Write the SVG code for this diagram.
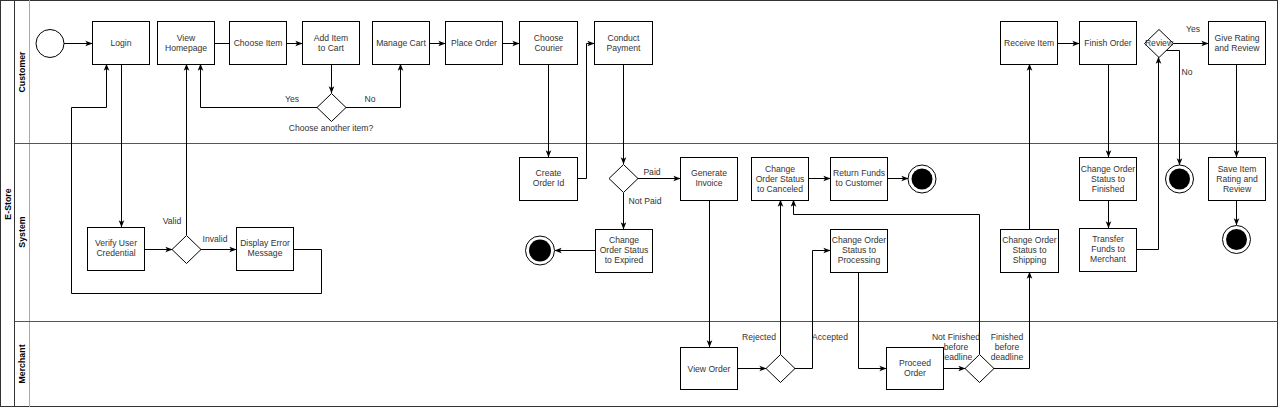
<svg xmlns="http://www.w3.org/2000/svg" width="1280" height="408" viewBox="0 0 1280 408">
<style>
.n{fill:#fff;stroke:#000;stroke-width:1}
.t{font-family:"Liberation Sans",Arial,sans-serif;font-size:8.6px;fill:#333;text-anchor:middle}
.lb{font-family:"Liberation Sans",Arial,sans-serif;font-size:8.8px;font-weight:bold;fill:#000;text-anchor:middle}
.e{fill:none;stroke:#000;stroke-width:1}
.a{marker-end:url(#arr)}
.frame{fill:none;stroke:#333;stroke-width:1}
</style>
<defs>
<marker id="arr" viewBox="0 0 10 10" refX="9.5" refY="5" markerWidth="7" markerHeight="7" markerUnits="userSpaceOnUse" orient="auto">
<path d="M0,1 L10,5 L0,9 L2.5,5 z" fill="#000"/>
</marker>
</defs>
<rect width="1280" height="408" fill="#fff"/>
<g id="pool">
<rect class="frame" x="0.5" y="0.5" width="1277" height="406"/>
<line x1="14.5" y1="0" x2="14.5" y2="407" stroke="#333"/>
<line x1="29.5" y1="0" x2="29.5" y2="407" stroke="#aaa"/>
<line x1="14.5" y1="143.5" x2="1277.5" y2="143.5" stroke="#555"/>
<line x1="14.5" y1="321.5" x2="1277.5" y2="321.5" stroke="#555"/>
<text class="lb" transform="translate(10.5,204) rotate(-90)">E-Store</text>
<text class="lb" transform="translate(25,72) rotate(-90)">Customer</text>
<text class="lb" transform="translate(25,232) rotate(-90)">System</text>
<text class="lb" transform="translate(25,364) rotate(-90)">Merchant</text>
</g>
<g id="connectors">
<path class="e a" d="M64,43.5 H92"/>
<path class="e" d="M214,43.5 H229"/>
<path class="e a" d="M286,43.5 H302"/>
<path class="e a" d="M331.5,64 V93"/>
<path class="e a" d="M317,107.5 H200.5 V64"/>
<path class="e a" d="M346,107.5 H400.5 V64"/>
<path class="e a" d="M429,43.5 H445"/>
<path class="e a" d="M502,43.5 H519"/>
<path class="e a" d="M548.5,64 V157"/>
<path class="e a" d="M577,178.5 H586.5 V43.5 H594"/>
<path class="e a" d="M623.5,64 V164"/>
<path class="e a" d="M637,178.5 H680"/>
<path class="e a" d="M623.5,193 V229"/>
<path class="e a" d="M595,250.5 H555"/>
<path class="e a" d="M709.5,200 V347"/>
<path class="e a" d="M737,368.5 H766"/>
<path class="e a" d="M780.5,354 V200"/>
<path class="e a" d="M794,368.5 H812.5 V250.5 H830"/>
<path class="e a" d="M858.5,272 V368.5 H886"/>
<path class="e a" d="M943,368.5 H965"/>
<path class="e a" d="M979.5,354 V214.5 H793.5 V200"/>
<path class="e a" d="M993,368.5 H1029.5 V272"/>
<path class="e a" d="M1029.5,229 V64"/>
<path class="e a" d="M1057,43.5 H1079"/>
<path class="e a" d="M1108.5,64 V157"/>
<path class="e a" d="M1108.5,200 V228"/>
<path class="e a" d="M1136,249.5 H1158.5 V57"/>
<path class="e a" d="M1173,43.5 H1208"/>
<path class="e a" d="M1166,50.5 H1179.5 V165"/>
<path class="e a" d="M1236.5,64 V157"/>
<path class="e a" d="M1236.5,200 V225"/>
<path class="e a" d="M809,178.5 H830"/>
<path class="e a" d="M887,178.5 H908"/>
<path class="e a" d="M121.5,64 V227"/>
<path class="e a" d="M144,249.5 H172"/>
<path class="e a" d="M186.5,235 V64"/>
<path class="e a" d="M200,249.5 H236"/>
<path class="e a" d="M293,249.5 H321.5 V293.5 H71.5 V107.5 H106.5 V64"/>
<text class="t" x="292" y="102">Yes</text>
<text class="t" x="370" y="102">No</text>
<text class="t" x="331" y="131">Choose another item?</text>
<text class="t" x="172" y="224">Valid</text>
<text class="t" x="215" y="242">Invalid</text>
<text class="t" x="652" y="175">Paid</text>
<text class="t" x="645" y="204">Not Paid</text>
<text class="t" x="759" y="340">Rejected</text>
<text class="t" x="830" y="340">Accepted</text>
<text class="t" x="956" y="340">Not Finished</text>
<text class="t" x="956" y="350">before</text>
<text class="t" x="956" y="360">deadline</text>
<text class="t" x="1007" y="340">Finished</text>
<text class="t" x="1007" y="350">before</text>
<text class="t" x="1007" y="360">deadline</text>
<text class="t" x="1193" y="32">Yes</text>
<text class="t" x="1187" y="75">No</text>
</g>
<g id="start"><circle class="n" cx="50" cy="43.5" r="14"/></g>
<g id="login"><rect class="n" x="92.5" y="21.5" width="57" height="43"/><text class="t" x="121" y="46">Login</text></g>
<g id="view-homepage"><rect class="n" x="157.5" y="21.5" width="57" height="43"/><text class="t" x="186" y="41">View</text><text class="t" x="186" y="51">Homepage</text></g>
<g id="choose-item"><rect class="n" x="229.5" y="21.5" width="57" height="43"/><text class="t" x="258" y="46">Choose Item</text></g>
<g id="add-item"><rect class="n" x="302.5" y="21.5" width="57" height="43"/><text class="t" x="331" y="41">Add Item</text><text class="t" x="331" y="51">to Cart</text></g>
<g id="choose-another"><polygon class="n" points="317,107.5 331.5,93.5 346,107.5 331.5,121.5"/></g>
<g id="manage-cart"><rect class="n" x="372.5" y="21.5" width="57" height="43"/><text class="t" x="401" y="46">Manage Cart</text></g>
<g id="place-order"><rect class="n" x="445.5" y="21.5" width="57" height="43"/><text class="t" x="474" y="46">Place Order</text></g>
<g id="choose-courier"><rect class="n" x="519.5" y="21.5" width="58" height="43"/><text class="t" x="548.5" y="41">Choose</text><text class="t" x="548.5" y="51">Courier</text></g>
<g id="conduct-payment"><rect class="n" x="594.5" y="21.5" width="58" height="43"/><text class="t" x="623.5" y="41">Conduct</text><text class="t" x="623.5" y="51">Payment</text></g>
<g id="receive-item"><rect class="n" x="1000.5" y="21.5" width="57" height="43"/><text class="t" x="1029" y="46">Receive Item</text></g>
<g id="finish-order"><rect class="n" x="1079.5" y="21.5" width="57" height="43"/><text class="t" x="1108" y="46">Finish Order</text></g>
<g id="review"><polygon class="n" points="1144.5,43.5 1159,29.5 1173.5,43.5 1159,57.5"/><text class="t" x="1159" y="46">Review</text></g>
<g id="give-rating"><rect class="n" x="1208.5" y="21.5" width="57" height="43"/><text class="t" x="1237" y="41">Give Rating</text><text class="t" x="1237" y="51">and Review</text></g>
<g id="verify"><rect class="n" x="87.5" y="227.5" width="57" height="43"/><text class="t" x="116" y="246">Verify User</text><text class="t" x="116" y="256">Credential</text></g>
<g id="valid-diamond"><polygon class="n" points="172,249.5 186.5,235.5 201,249.5 186.5,263.5"/></g>
<g id="display-error"><rect class="n" x="236.5" y="227.5" width="57" height="43"/><text class="t" x="265" y="246">Display Error</text><text class="t" x="265" y="256">Message</text></g>
<g id="create-order-id"><rect class="n" x="519.5" y="157.5" width="58" height="43"/><text class="t" x="548.5" y="176">Create</text><text class="t" x="548.5" y="186">Order Id</text></g>
<g id="payment-diamond"><polygon class="n" points="609,178.5 623.5,164.5 638,178.5 623.5,192.5"/></g>
<g id="generate-invoice"><rect class="n" x="680.5" y="157.5" width="57" height="43"/><text class="t" x="709" y="176">Generate</text><text class="t" x="709" y="186">Invoice</text></g>
<g id="expired"><rect class="n" x="595.5" y="229.5" width="57" height="43"/><text class="t" x="624" y="243">Change</text><text class="t" x="624" y="253">Order Status</text><text class="t" x="624" y="263">to Expired</text></g>
<g id="end-expired"><circle class="n" cx="540" cy="250.5" r="14.5"/><circle cx="540" cy="250.5" r="11" fill="#000"/></g>
<g id="canceled"><rect class="n" x="751.5" y="157.5" width="57" height="43"/><text class="t" x="780" y="171.5">Change</text><text class="t" x="780" y="181.5">Order Status</text><text class="t" x="780" y="191.5">to Canceled</text></g>
<g id="return-funds"><rect class="n" x="830.5" y="157.5" width="57" height="43"/><text class="t" x="859" y="176">Return Funds</text><text class="t" x="859" y="186">to Customer</text></g>
<g id="end-canceled"><circle class="n" cx="922" cy="179" r="14"/><circle cx="922" cy="179" r="10.5" fill="#000"/></g>
<g id="processing"><rect class="n" x="830.5" y="229.5" width="57" height="43"/><text class="t" x="859" y="243">Change Order</text><text class="t" x="859" y="253">Status to</text><text class="t" x="859" y="263">Processing</text></g>
<g id="shipping"><rect class="n" x="1000.5" y="229.5" width="58" height="43"/><text class="t" x="1029.5" y="243">Change Order</text><text class="t" x="1029.5" y="253">Status to</text><text class="t" x="1029.5" y="263">Shipping</text></g>
<g id="finished"><rect class="n" x="1079.5" y="157.5" width="57" height="43"/><text class="t" x="1108" y="171.5">Change Order</text><text class="t" x="1108" y="181.5">Status to</text><text class="t" x="1108" y="191.5">Finished</text></g>
<g id="transfer"><rect class="n" x="1079.5" y="228.5" width="57" height="43"/><text class="t" x="1108" y="242">Transfer</text><text class="t" x="1108" y="252">Funds to</text><text class="t" x="1108" y="262">Merchant</text></g>
<g id="end-review"><circle class="n" cx="1179.5" cy="179" r="14"/><circle cx="1179.5" cy="179" r="10.5" fill="#000"/></g>
<g id="save-rating"><rect class="n" x="1208.5" y="157.5" width="57" height="43"/><text class="t" x="1237" y="171.5">Save Item</text><text class="t" x="1237" y="181.5">Rating and</text><text class="t" x="1237" y="191.5">Review</text></g>
<g id="end-save"><circle class="n" cx="1236.5" cy="239.5" r="14"/><circle cx="1236.5" cy="239.5" r="10.5" fill="#000"/></g>
<g id="view-order"><rect class="n" x="680.5" y="347.5" width="57" height="42"/><text class="t" x="709" y="371.5">View Order</text></g>
<g id="accept-diamond"><polygon class="n" points="766,368.5 780.5,354.5 795,368.5 780.5,382.5"/></g>
<g id="proceed-order"><rect class="n" x="886.5" y="347.5" width="57" height="42"/><text class="t" x="915" y="366">Proceed</text><text class="t" x="915" y="376">Order</text></g>
<g id="deadline-diamond"><polygon class="n" points="965,368.5 979.5,354.5 994,368.5 979.5,382.5"/></g>
</svg>
